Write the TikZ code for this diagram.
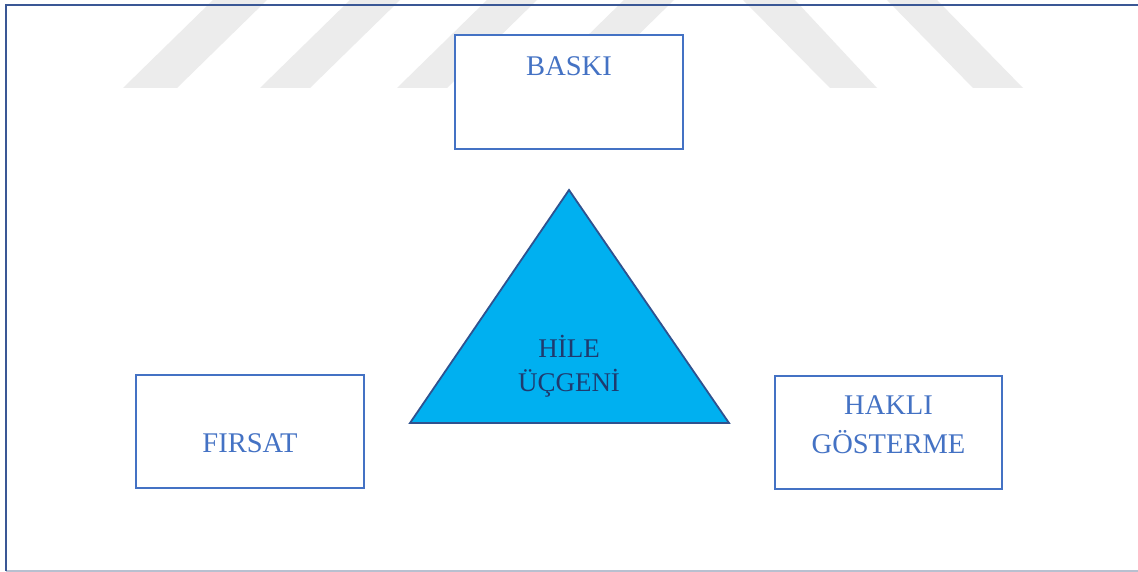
\documentclass[tikz,border=0pt]{standalone}
\usepackage{fontspec}
\setmainfont{Liberation Serif}
\definecolor{boxblue}{HTML}{4472C4}
\definecolor{trifill}{HTML}{00B0F0}
\definecolor{triline}{HTML}{2F528F}
\definecolor{tritext}{HTML}{1F3A6E}
\definecolor{framecol}{HTML}{3A5795}
\definecolor{framelow}{HTML}{B8C0D0}
\definecolor{wmgray}{HTML}{ECECEC}
\tikzset{
  stripe/.style={fill=wmgray, draw=none},
  box/.style={draw=boxblue, line width=2pt, fill=white, rectangle, inner sep=0pt},
  boxtext/.style={text=boxblue, inner sep=0pt, align=center, font=\fontsize{28.5}{39}\selectfont},
  tritxt/.style={text=tritext, inner sep=0pt, align=center, font=\fontsize{27}{34}\selectfont}
}
\begin{document}
\begin{tikzpicture}[x=1pt,y=-1pt]
\useasboundingbox (0,0) rectangle (1138,572);
\fill[white] (0,0) rectangle (1138,572);
% watermark stripes
\fill[stripe] (123,88) -- (177,88) -- (267,0) -- (213,0) -- cycle;
\fill[stripe] (260,88) -- (310,88) -- (400,0) -- (350,0) -- cycle;
\fill[stripe] (397,88) -- (447,88) -- (537,0) -- (487,0) -- cycle;
\fill[stripe] (534,88) -- (584,88) -- (674,0) -- (624,0) -- cycle;
\fill[stripe] (743,0) -- (795,0) -- (877,88) -- (830,88) -- cycle;
\fill[stripe] (887,0) -- (937,0) -- (1023,88) -- (973,88) -- cycle;
% frame
\coordinate (ftl) at (6,5);
\coordinate (ftr) at (1138,5);
\coordinate (fbl) at (6,571);
\coordinate (fbr) at (1138,571);
\draw[framelow, line width=1.5pt] (fbl) -- (fbr);
\draw[framecol, line width=2.5pt] (fbl) -- (ftl) -- (ftr);
% boxes
\node[box, minimum width=228pt, minimum height=114pt] (baski) at (569,92) {};
\node[boxtext, anchor=base] (baskitxt) at (569,76) {BASKI};
\node[box, minimum width=228pt, minimum height=113pt] (firsat) at (250,431.5) {};
\node[boxtext, anchor=base] (firsattxt) at (250,452) {FIRSAT};
\node[box, minimum width=227pt, minimum height=113pt] (hakli) at (888.5,432.5) {};
\node[boxtext] (haklitxt) at (888.5,425) {HAKLI\\GÖSTERME};
% triangle
\coordinate (apex) at (569,190);
\coordinate (bl) at (410,423);
\coordinate (br) at (729,423);
\draw[fill=trifill, draw=triline, line width=1.8pt, line join=miter] (apex) -- (br) -- (bl) -- cycle;
\node[tritxt] (hile) at (569,366.5) {HİLE\\ÜÇGENİ};
\end{tikzpicture}
\end{document}
